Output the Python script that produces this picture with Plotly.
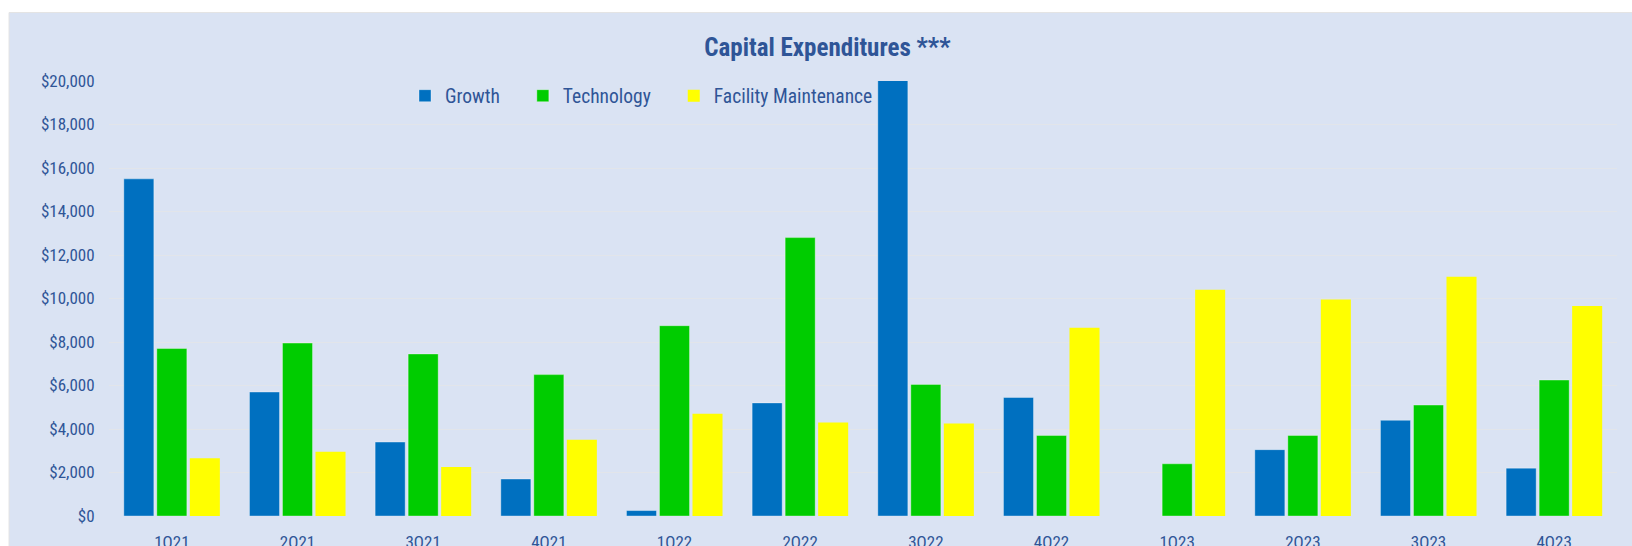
import plotly.graph_objects as go

quarters = ["1Q21", "2Q21", "3Q21", "4Q21", "1Q22", "2Q22", "3Q22", "4Q22",
            "1Q23", "2Q23", "3Q23", "4Q23"]
growth = [15500, 5700, 3400, 1700, 250, 5200, 20050, 5450, None, 3050, 4400, 2200]
technology = [7700, 7950, 7450, 6500, 8750, 12800, 6050, 3700, 2400, 3700, 5100, 6250]
facility = [2650, 2950, 2250, 3500, 4700, 4300, 4250, 8650, 10400, 9950, 11000, 9650]
series_names = ["Growth", "Technology", "Facility Maintenance"]

BG = "#DAE3F3"
TXT = "#2F5597"
FONT = "Liberation Sans Narrow, Roboto Condensed, Roboto, sans-serif"

W, H = 1632, 546
ML, MR, MT, MB = 109, 15, 81, 30
pw = W - ML - MR
ph = H - MT - MB

PAD = "\u00a0" * 4  # extra spacing between legend entries

fig = go.Figure()
edge = dict(width=1, color="rgba(255,255,255,0.35)")
fig.add_trace(go.Bar(name=series_names[0] + PAD, x=quarters, y=growth,
                     marker=dict(color="#0070C0", line=edge)))
fig.add_trace(go.Bar(name=series_names[1] + PAD, x=quarters, y=technology,
                     marker=dict(color="#00CC00", line=edge)))
fig.add_trace(go.Bar(name=series_names[2], x=quarters, y=facility,
                     marker=dict(color="#FFFF00", line=dict(width=0))))

# panel background
fig.add_shape(type="rect", xref="paper", yref="paper", layer="below",
              x0=(9 - ML) / pw, x1=(W + 5 - ML) / pw,
              y0=-(MB + 10) / ph, y1=(ph + MT - 12.5) / ph,
              fillcolor=BG, line=dict(color="#E4E4E4", width=1))

fig.update_layout(
    width=W, height=H,
    template="none",
    paper_bgcolor="white",
    plot_bgcolor="rgba(0,0,0,0)",
    margin=dict(l=ML, r=MR, t=MT, b=MB, pad=0),
    barmode="group",
    bargap=0.212,
    bargroupgap=0.09,
    font=dict(family=FONT, color=TXT, size=16),
    title=dict(text="<b>Capital Expenditures ***</b>", xref="container", x=0.507,
               xanchor="center", yref="container", y=1 - 47 / H, yanchor="middle",
               font=dict(family=FONT, size=25, color=TXT)),
    legend=dict(orientation="h", xref="paper", yref="paper",
                x=(405 - ML) / pw, xanchor="left", y=(ph + MT - 96) / ph, yanchor="middle",
                bgcolor="rgba(0,0,0,0)", font=dict(family=FONT, size=19.5, color=TXT)),
    xaxis=dict(showgrid=False, showline=False, zeroline=False, automargin=False,
               ticks="outside", ticklen=11, tickcolor="rgba(0,0,0,0)",
               tickfont=dict(family=FONT, size=17, color=TXT)),
    yaxis=dict(range=[0, 20000], dtick=2000, tickprefix="$", tickformat=",",
               showgrid=True, gridcolor="#E2E5EA", gridwidth=1, zeroline=False,
               showline=False, automargin=False,
               ticks="outside", ticklen=10, tickcolor="rgba(0,0,0,0)",
               tickfont=dict(family=FONT, size=17, color=TXT)),
)

fig.write_html("out.html", config={"displayModeBar": False},
               post_script="document.body.style.margin='0';document.body.style.overflow='hidden';")
